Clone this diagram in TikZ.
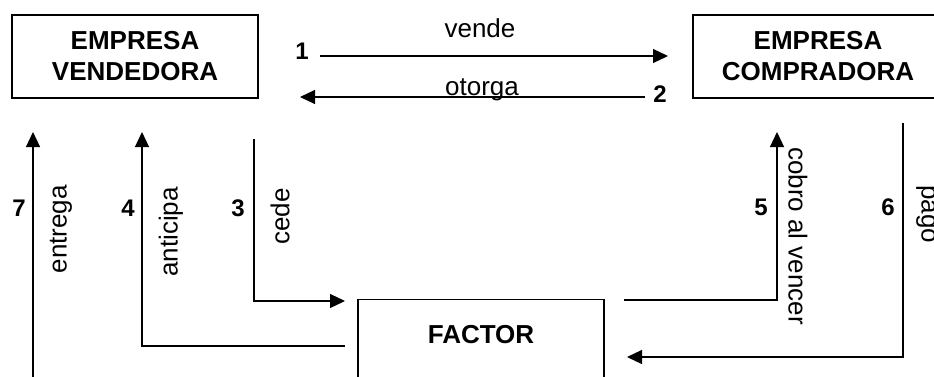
\documentclass[tikz,border=0pt]{standalone}
\usepackage{fontspec}
\setmainfont{Liberation Sans}
\usetikzlibrary{arrows.meta}
\begin{document}
\begin{tikzpicture}[x=1pt,y=-1pt,
  box/.style={draw, line width=1.2pt, inner sep=0pt, align=center, font=\fontsize{26}{31}\selectfont\bfseries},
  conn/.style={line width=1.2pt, -{Triangle[length=15pt,width=14pt]}},
  lbl/.style={inner sep=0pt, font=\fontsize{26}{31}\selectfont},
  num/.style={inner sep=0pt, font=\fontsize{24}{28}\selectfont\bfseries},
]
\useasboundingbox[fill=white] (0,0) rectangle (934,376);
\clip (0,0) rectangle (934,376);
% boxes
\node[box, minimum width=246pt, minimum height=83pt] (ev) at (135,56.5) {EMPRESA\\VENDEDORA};
\node[box, minimum width=250pt, minimum height=83pt] (ec) at (818,56.5) {EMPRESA\\COMPRADORA};
\node[box, minimum width=246pt, minimum height=90pt, anchor=north] (factor) at (481,299) {};
\node[lbl, font=\fontsize{26}{31}\selectfont\bfseries, anchor=base] (factorlbl) at (481,343) {FACTOR};
% connector end points
\coordinate (a1s) at (320,56);  \coordinate (a1e) at (668,56);
\coordinate (a2s) at (645,97);  \coordinate (a2e) at (300,97);
\coordinate (a3s) at (254,139); \coordinate (a3c) at (254,301); \coordinate (a3e) at (345,301);
\coordinate (a4s) at (345,346); \coordinate (a4c) at (142,346); \coordinate (a4e) at (142,132);
\coordinate (a5s) at (624,300); \coordinate (a5c) at (777,300); \coordinate (a5e) at (777,132);
\coordinate (a6s) at (903,123); \coordinate (a6c) at (903,357); \coordinate (a6e) at (627,357);
\coordinate (a7s) at (33,390);  \coordinate (a7e) at (33,132);
% connectors
\draw[conn] (a1s) -- (a1e);
\draw[conn] (a2s) -- (a2e);
\draw[conn] (a3s) -- (a3c) -- (a3e);
\draw[conn] (a4s) -- (a4c) -- (a4e);
\draw[conn] (a5s) -- (a5c) -- (a5e);
\draw[conn] (a6s) -- (a6c) -- (a6e);
\draw[conn] (a7s) -- (a7e);
% labels
\node[lbl, anchor=base] (vende) at (480,37) {vende};
\node[lbl, anchor=base] (otorga) at (482,95) {otorga};
\node[num] (n1) at (302,51.5) {1};
\node[num] (n2) at (660,94) {2};
\node[num] (n7) at (19,208) {7};
\node[num] (n4) at (128,208) {4};
\node[num] (n3) at (238,208) {3};
\node[num] (n5) at (761,207) {5};
\node[num] (n6) at (888,207) {6};
\node[lbl, rotate=90, anchor=east] (entrega) at (61,185) {entrega};
\node[lbl, rotate=90, anchor=east] (anticipa) at (171,187) {anticipa};
\node[lbl, rotate=90, anchor=east] (cede) at (280,188) {cede};
\node[lbl, rotate=-90, anchor=west] (cobro) at (798,147) {cobro al vencer};
\node[lbl, rotate=-90, anchor=west] (pago) at (926,185) {pago};
\end{tikzpicture}
\end{document}
